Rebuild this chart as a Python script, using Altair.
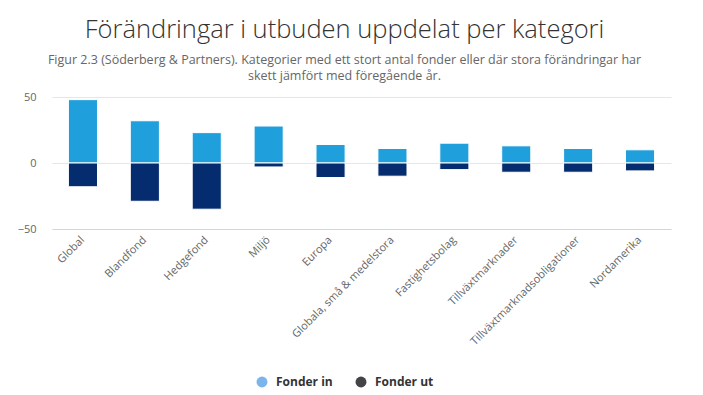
import altair as alt
import pandas as pd

kategorier = ["Global", "Blandfond", "Hedgefond", "Miljö", "Europa",
              "Globala, små & medelstora", "Fastighetsbolag", "Tillväxtmarknader",
              "Tillväxtmarknadsobligationer", "Nordamerika"]
fonder_in = [48, 32, 23, 28, 14, 11, 15, 13, 11, 10]
fonder_ut = [-18, -29, -35, -3, -11, -10, -5, -7, -7, -6]
serier = ["Fonder in", "Fonder ut"]
bar_farger = ["#1f9fdc", "#042c6e"]
legend_farger = ["#7cb5ec", "#434348"]

rows = []
for k, a, b in zip(kategorier, fonder_in, fonder_ut):
    rows.append({"kategori": k, "serie": serier[0], "varde": a, "ordning": 0})
    rows.append({"kategori": k, "serie": serier[1], "varde": b, "ordning": 1})
df = pd.DataFrame(rows)

FONT = "Open Sans"

x_enc = alt.X("kategori:N", sort=kategorier, title=None,
              scale=alt.Scale(paddingInner=0.53, paddingOuter=0.265),
              axis=alt.Axis(labelAngle=-45, labelAlign="right", labelBaseline="middle",
                            labelPadding=9, ticks=False, domainColor="#ccd6eb",
                            labelColor="#666666", labelFontSize=11, labelFont=FONT,
                            grid=False))
y_enc = alt.Y("varde:Q", stack="zero", title=None,
              scale=alt.Scale(domain=[-50, 50], nice=False),
              axis=alt.Axis(values=[-50, 0, 50], ticks=False, domain=False,
                            gridColor="#e6e6e6", labelColor="#666666",
                            labelFontSize=11, labelFont=FONT, labelPadding=16))

bars = alt.Chart(df).mark_bar(stroke="white", strokeWidth=1).encode(
    x=x_enc,
    y=y_enc,
    color=alt.Color("serie:N", scale=alt.Scale(domain=serier, range=bar_farger), legend=None),
    order=alt.Order("ordning:Q"),
)

legend_layer = alt.Chart(df).mark_point(filled=True, opacity=0, shape="circle").encode(
    x=alt.X("kategori:N", sort=kategorier),
    y=alt.Y("varde:Q", stack="zero"),
    color=alt.Color("serie:N", scale=alt.Scale(domain=serier, range=legend_farger),
                    legend=alt.Legend(title=None, orient="none", direction="horizontal",
                                      legendX=204, legendY=279,
                                      symbolType="circle", symbolSize=120,
                                      symbolOpacity=1, symbolStrokeWidth=0,
                                      labelFont=FONT, labelFontSize=12,
                                      labelFontWeight="bold", labelColor="#333333",
                                      columnPadding=22, labelOffset=8)),
)

chart = alt.layer(bars, legend_layer).resolve_scale(color="independent").properties(
    width=619,
    height=132,
    padding={"left": 44, "top": 89, "right": 20, "bottom": 164},
    autosize=alt.AutoSizeParams(type="none"),
    background="white",
    title=alt.TitleParams(
        text="Förändringar i utbuden uppdelat per kategori",
        subtitle=["Figur 2.3 (Söderberg & Partners). Kategorier med ett stort antal fonder eller där stora förändringar har",
                  "skett jämfört med föregående år."],
        font=FONT, fontSize=25.5, fontWeight=300, color="#333333",
        subtitleFont=FONT, subtitleFontSize=12.5, subtitleColor="#666666",
        subtitleLineHeight=16, subtitlePadding=10,
        anchor="middle", dx=-17, offset=9,
    ),
).configure_view(stroke=None)

chart.save("out.html", embed_options={"renderer": "svg", "actions": False})
